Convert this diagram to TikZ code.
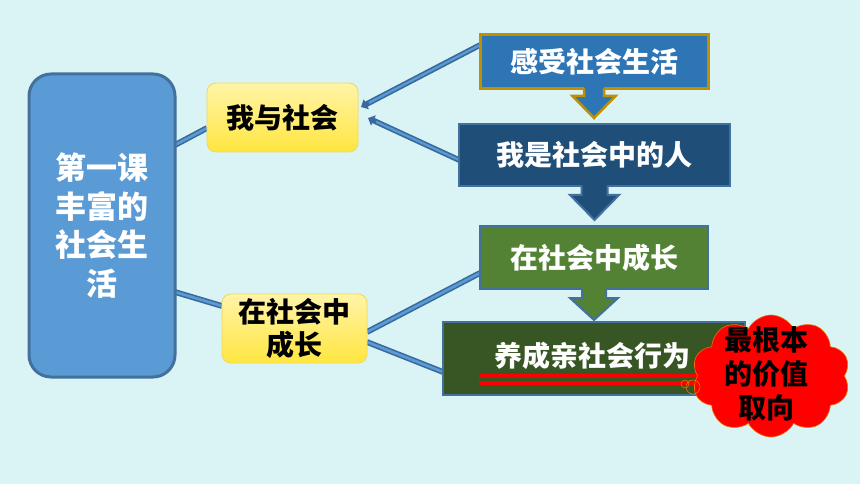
\documentclass[tikz,border=0pt]{standalone}
\usepackage{fontspec}
\newfontfamily\cjk{Noto Sans CJK SC}
\usetikzlibrary{shapes.symbols,arrows.meta,calc}
\definecolor{bgc}{HTML}{DAF3F5}
\definecolor{lbox}{HTML}{5B9BD5}
\definecolor{lboxb}{HTML}{41719C}
\definecolor{ytop}{HTML}{FFF4A8}
\definecolor{ybot}{HTML}{FFE640}
\definecolor{yb}{HTML}{F0D860}
\definecolor{bone}{HTML}{2E75B6}
\definecolor{gold}{HTML}{BF9000}
\definecolor{btwo}{HTML}{1F4E79}
\definecolor{gthree}{HTML}{548235}
\definecolor{gfour}{HTML}{375623}
\definecolor{conn}{HTML}{3A6A9C}
\definecolor{connin}{HTML}{5B9BD5}
\definecolor{cloudb}{HTML}{F07000}
\pgfdeclarelayer{bglayer}
\pgfdeclarelayer{connlayer}
\pgfsetlayers{bglayer,connlayer,main}
% #1 fill colour, #2 line style, #3 start anchor, #4 shaft half width,
% #5 head half width, #6 shaft length, #7 head length
\newcommand\blockarr[7]{%
  \fill[#1] ($(#3)+(-#4,-3)$) -- ++(0,#6+3) -- ++(#4-#5,0) -- ++(#5,#7)
     -- ++(#5,-#7) -- ++(#4-#5,0) -- ++(0,-#6-3) -- cycle;
  \draw[#2] ($(#3)+(-#4,-0.5)$) -- ++(0,#6+0.5) -- ++(#4-#5,0) -- ++(#5,#7)
     -- ++(#5,-#7) -- ++(#4-#5,0) -- ++(0,-#6-0.5);
}
\tikzset{
  lcbox/.style={draw=lboxb, line width=3pt, fill=lbox, rounded corners=22pt,
    minimum width=146pt, minimum height=303pt, inner sep=0pt, outer sep=0pt,
    text=white, align=center, font=\cjk\bfseries\fontsize{31pt}{38.5pt}\selectfont},
  ybox/.style={draw=yb, line width=0.8pt, top color=ytop, bottom color=ybot,
    rounded corners=9pt, minimum width=#1, minimum height=69pt, inner sep=0pt,
    outer sep=0pt, text=black, align=center,
    font=\cjk\bfseries\fontsize{28pt}{33pt}\selectfont},
  rbox/.style={rectangle, inner sep=0pt, outer sep=0pt, text=white,
    font=\cjk\bfseries\fontsize{28pt}{33pt}\selectfont},
  link/.style={draw=conn, line width=1.6pt, double=connin, double distance=2.6pt},
  linkarrow/.style={draw=conn, line width=5.6pt, -{Triangle[length=6pt,width=11pt]}},
  linkarrowin/.style={draw=connin, line width=2.2pt, shorten >=9pt, shorten <=1pt},
}
\begin{document}
\begin{tikzpicture}[x=1pt,y=-1pt]
\begin{pgfonlayer}{bglayer}
\fill[bgc] (0,0) rectangle (860,484);
\end{pgfonlayer}
\useasboundingbox (0,0) rectangle (860,484);

% nodes
\node[lcbox] (L) at (102,225.5) {第一课\\丰富的\\社会生\\活};
\node[ybox=151pt] (y1) at (282.5,117.5) {我与社会};
\node[ybox=145pt] (y2) at (294.5,328.5) {在社会中\\成长};

\node[rbox, fill=bone, draw=gold, line width=3pt, minimum width=228pt, minimum height=54pt] (b1) at (594,62) {感受社会生活};
\node[rbox, fill=btwo, draw=lboxb, line width=2pt, minimum width=271pt, minimum height=62pt] (b2) at (594.5,155) {我是社会中的人};
\node[rbox, fill=gthree, draw=lboxb, line width=2pt, minimum width=228pt, minimum height=63pt] (b3) at (594,257.5) {在社会中成长};
\node[rbox, fill=gfour, draw=lboxb, line width=2pt, minimum width=302pt, minimum height=73pt] (b4) at (594,358.5) {};
\node[rbox] (t4) at (592,356) {养成亲社会行为};

% connectors
\begin{pgfonlayer}{connlayer}
\draw[link] ([yshift=80.5pt]L.east) -- ([yshift=-10.5pt]y1.west);
\draw[link] ([yshift=-66.5pt]L.east) -- ([yshift=22.5pt]y2.west);
\draw[linkarrow] ([yshift=17pt]b1.west) -- ([xshift=3pt,yshift=10.5pt]y1.east);
\draw[linkarrowin] ([yshift=17pt]b1.west) -- ([xshift=3pt,yshift=10.5pt]y1.east);
\draw[linkarrow] ([yshift=-5pt]b2.west) -- ([xshift=10pt,yshift=-0.5pt]y1.east);
\draw[linkarrowin] ([yshift=-5pt]b2.west) -- ([xshift=10pt,yshift=-0.5pt]y1.east);
\draw[link] ([yshift=-3.5pt]y2.east) -- ([yshift=-15.5pt]b3.west);
\draw[link] ([yshift=-13.5pt]y2.east) -- ([yshift=-13.5pt]b4.west);
\end{pgfonlayer}

% block arrows
\blockarr{bone}{draw=gold, line width=2.5pt}{b1.south}{10}{21.5}{7}{22}
\blockarr{btwo}{draw=lboxb, line width=2pt}{b2.south}{13}{24.5}{9}{25}
\blockarr{gthree}{draw=lboxb, line width=2pt}{b3.south}{12}{24}{9}{22}

% red double underline
\draw[red, line width=3.5pt] (479,376) -- (700,376);
\draw[red, line width=3.5pt] (479,383) -- (700,383);

% cloud
\node[cloud, cloud puffs=10, cloud puff arc=125, cloud ignores aspect, fill=red, draw=cloudb, line width=0.6pt,
  minimum width=158pt, minimum height=122pt, inner sep=0pt] (cl) at (771,376) {};
\draw[cloudb, line width=0.6pt] (693,387) circle (7pt);
\draw[cloudb, line width=0.6pt] (685,384) circle (4pt);
\node[align=center, text=black, inner sep=0pt, font=\cjk\bfseries\fontsize{28pt}{34pt}\selectfont] (clt) at (766,374) {最根本\\的价值\\取向};
\end{tikzpicture}
\end{document}
